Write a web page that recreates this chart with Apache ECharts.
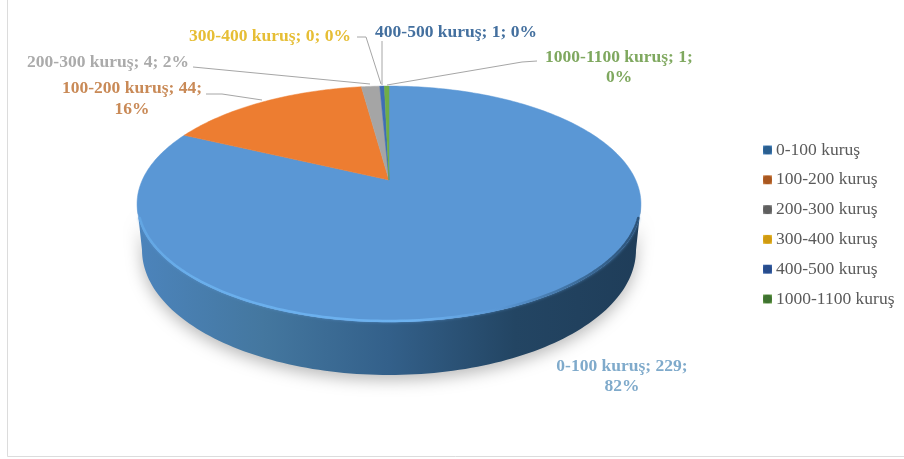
<!DOCTYPE html>
<html><head><meta charset="utf-8">
<style>html,body{margin:0;padding:0;background:#fff}#c{width:904px;height:459px}</style>
<script src="https://cdn.jsdelivr.net/npm/echarts@6/dist/echarts.min.js"></script>
</head><body><div id="c"></div>
<script>
const categories = ['0-100 kuruş','100-200 kuruş','200-300 kuruş','300-400 kuruş','400-500 kuruş','1000-1100 kuruş'];
const values = [229,44,4,0,1,1];
const percents = ['82%','16%','2%','0%','0%','0%'];
const colors = ['#5A97D5','#ED7D31','#A5A5A5','#FFC000','#3F6DB5','#70AD47'];
const labelColors = ['#7FAACB','#C98A57','#ABABAB','#E6BE35','#44709F','#7FA85F'];
const legendInner = ['#2A5F90','#A9571F','#5F5F5F','#D09A10','#274C8C','#3F7330'];
const legendOuter = ['#5A97D5','#DE9A66','#A5A5A5','#F2CE55','#4F78BF','#7FB35C'];
const labelWrap = [true,true,false,false,false,true];

const view = {
  apex:[389,180], A:246.7, B:113, k:0.203,
  top:{cx:389,cy:204,rx:252,ry:118},
  bevel:{cx:389,cy:204,rx:251,ry:117},
  bottom:{cx:389,cy:250,rx:247,ry:125}
};
const labelLayout = [
  {x:622,y:366,lh:20},{x:132,y:88,lh:21},{x:108,y:62,lh:20},
  {x:270,y:36,lh:20},{x:456,y:32,lh:20},{x:619,y:57,lh:20}
];
const leaders = [
  null,
  [[206,94],[222,94],[262,100]],
  [[193,67],[370,84]],
  [[357,37],[366,37],[381,84]],
  [[382,41],[382,85]],
  [[537,61],[522,62],[387,85]]
];
const total = values.reduce((a,b)=>a+b,0);
function proj(deg){
  const a=deg*Math.PI/180,u=Math.sin(a),v=-Math.cos(a),d=1-view.k*v;
  return [view.apex[0]+view.A*u/d, view.apex[1]+view.B*v/d];
}
function front(e,n,from,to){
  const a=from||0,b=to===undefined?Math.PI:to,p=[];
  for(let i=0;i<=n;i++){const t=a+(b-a)*i/n;p.push([e.cx+e.rx*Math.cos(t),e.cy+e.ry*Math.sin(t)]);}
  return p;
}
function renderSlice(idx){
  return function(params,api){
    const val=api.value(0);
    let before=0;for(let i=0;i<idx;i++)before+=values[i];
    const s=before/total*360,e=(before+val)/total*360;
    const kids=[];
    if(idx===0){
      const lower=front(view.bottom,120),upper=front(view.top,120).reverse();
      kids.push({type:'polygon',shape:{points:lower.concat(upper)},style:{
        fill:{type:'linear',x:0,y:0,x2:1,y2:0,colorStops:[
          {offset:0,color:'#4C84BC'},{offset:0.25,color:'#44779F'},{offset:0.5,color:'#33608A'},
          {offset:0.75,color:'#234563'},{offset:1,color:'#1F3D59'}]},
        shadowBlur:16,shadowColor:'rgba(0,0,0,0.28)',shadowOffsetY:5}});
    }
    if(val>0){
      const pts=[view.apex.slice()],n=Math.max(2,Math.ceil(e-s));
      for(let i=0;i<=n;i++)pts.push(proj(s+(e-s)*i/n));
      kids.push({type:'polygon',shape:{points:pts},style:{fill:colors[idx],stroke:colors[idx],lineWidth:0.5}});
    }
    if(idx===0){
      kids.push({type:'polyline',shape:{points:front(view.bevel,120,0.12,Math.PI-0.12)},style:{fill:null,lineWidth:2.5,lineCap:'round',
        shadowBlur:3,shadowColor:'rgba(90,151,213,0.7)',
        stroke:{type:'linear',x:0,y:0,x2:1,y2:0,colorStops:[
          {offset:0,color:'#62A5E2'},{offset:0.1,color:'#69AEEB'},{offset:0.55,color:'#6DB2F0'},
          {offset:0.72,color:'#5A97D5'},{offset:0.88,color:'#3C6C9A'},{offset:1,color:'#2C5278'}]}}});
    }
    if(leaders[idx]){
      kids.push({type:'polyline',shape:{points:leaders[idx]},style:{fill:null,stroke:'#A6A6A6',lineWidth:1}});
    }
    const L=labelLayout[idx],head=categories[idx]+'; '+values[idx]+';';
    const lines=labelWrap[idx]?[head,percents[idx]]:[head+' '+percents[idx]];
    lines.forEach((t,i)=>kids.push({type:'text',style:{text:t,x:L.x,y:L.y+i*L.lh,align:'center',verticalAlign:'middle',
      fill:labelColors[idx],font:'bold 17.5px "Liberation Serif"'}}));
    return {type:'group',children:kids};
  };
}
const chart=echarts.init(document.getElementById('c'),null,{renderer:'canvas'});
chart.setOption({
  animation:false,
  backgroundColor:'#fff',
  graphic:[{type:'polyline',silent:true,z:-1,shape:{points:[[7.5,0],[7.5,456.5],[904,456.5]]},style:{fill:null,stroke:'#DCDCDC',lineWidth:1}}],
  legend:{orient:'vertical',left:758,top:136,itemWidth:9,itemHeight:9,itemGap:11.8,icon:'rect',
    itemStyle:{borderWidth:0},
    textStyle:{fontFamily:'Liberation Serif',fontSize:17.5,color:'#5A5A5A',padding:[0,0,0,-1],lineHeight:17},
    data:categories.map((n,i)=>({name:n,itemStyle:{color:{type:'radial',x:0.5,y:0.5,r:0.7,colorStops:[
      {offset:0,color:legendInner[i]},{offset:0.6,color:legendInner[i]},{offset:1,color:legendOuter[i]}]}}}))},
  series:categories.map((n,i)=>({
    type:'custom',name:n,coordinateSystem:'none',z:2,silent:true,
    color:colors[i],clip:false,data:[[values[i]]],renderItem:renderSlice(i)
  }))
});
</script></body></html>
